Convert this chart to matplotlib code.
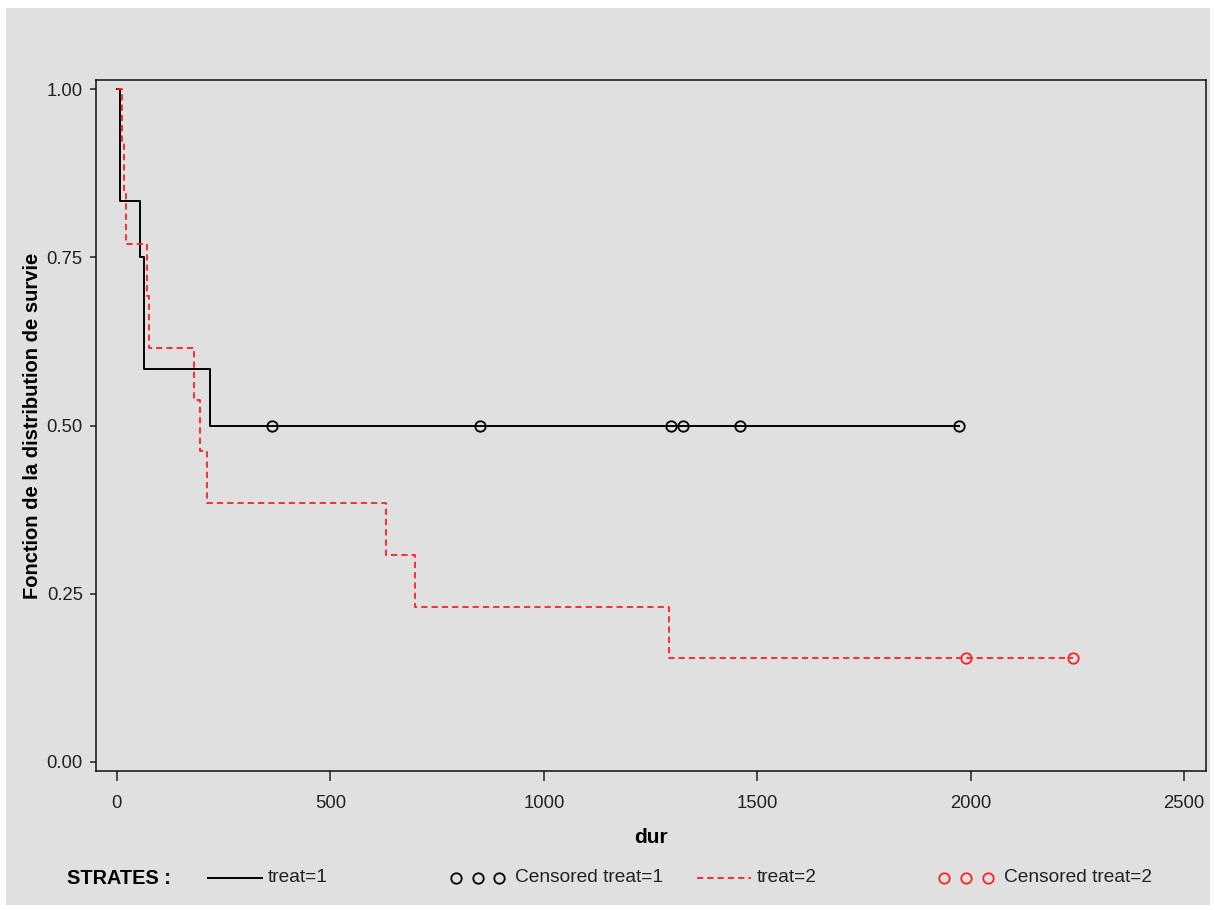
import matplotlib
matplotlib.use('Agg')
import matplotlib.pyplot as plt
from matplotlib.patches import Rectangle
from matplotlib.lines import Line2D

plt.rcParams['font.family'] = ['Liberation Sans', 'DejaVu Sans']
plt.rcParams['lines.scale_dashes'] = False

# Kaplan-Meier estimates, stratum treat=1
t1_times = [0, 8, 54, 63, 219]
t1_surv = [1.0, 0.8333, 0.75, 0.5833, 0.5]
t1_end = 1973
t1_cens = [363, 850, 1298, 1327, 1459, 1973]
t1_cens_surv = [0.5, 0.5, 0.5, 0.5, 0.5, 0.5]

# Kaplan-Meier estimates, stratum treat=2
t2_times = [0, 12, 17, 21, 70, 74, 181, 194, 210, 631, 698, 1294]
t2_surv = [1.0, 0.9231, 0.8462, 0.7692, 0.6923, 0.6154, 0.5385,
           0.4615, 0.3846, 0.3077, 0.2308, 0.1538]
t2_end = 2240
t2_cens = [1989, 2240]
t2_cens_surv = [0.1538, 0.1538]

x_ticks = [0, 500, 1000, 1500, 2000, 2500]
y_ticks = [0.00, 0.25, 0.50, 0.75, 1.00]
y_tick_labels = ['0.00', '0.25', '0.50', '0.75', '1.00']

W, H = 1215, 910
bg = '#e0e0e0'
fig = plt.figure(figsize=(W / 100, H / 100), dpi=100, facecolor='white')

# background / legend layer in pixel coordinates
bax = fig.add_axes([0, 0, 1, 1])
bax.set_xlim(0, W)
bax.set_ylim(H, 0)
bax.axis('off')
bax.add_patch(Rectangle((6, 8), 1204, 897, facecolor=bg, edgecolor='none'))

ax = fig.add_axes([96 / W, (H - 771) / H, (1206 - 96) / W, (771 - 80) / H])
ax.set_facecolor(bg)

ax.step(t1_times + [t1_end], t1_surv + [t1_surv[-1]], where='post',
        color='black', lw=1.4, zorder=3)
ax.plot(t1_cens, t1_cens_surv, 'o', mfc='none', mec='black', ms=7.5, mew=1.3, zorder=4)

ax.step(t2_times + [t2_end], t2_surv + [t2_surv[-1]], where='post',
        color='#ff2020', lw=1.3, dashes=(4.5, 2.9), zorder=3)
ax.plot(t2_cens, t2_cens_surv, 'o', mfc='none', mec='#ff2020', ms=7.5, mew=1.3, zorder=4)

ax.set_xlim(-49, 2551)
ax.set_ylim(-0.0134, 1.0134)
ax.set_xticks(x_ticks)
ax.set_yticks(y_ticks)
ax.set_yticklabels(y_tick_labels)
ax.tick_params(axis='x', length=7, width=1.1, pad=10, labelsize=13.3, colors='#222222')
ax.tick_params(axis='y', length=4.5, width=1.1, pad=5, labelsize=13.3, colors='#222222')
for s in ax.spines.values():
    s.set_linewidth(1.1)
    s.set_color('#111111')

ax.set_xlabel('dur', fontsize=15, fontweight='bold', labelpad=12)
ax.set_ylabel('Fonction de la distribution de survie', fontsize=14.5,
              fontweight='bold', labelpad=3)

# legend
ly = 878
fs = 13.8
bax.text(67, ly, 'STRATES :', fontsize=14.3, fontweight='bold', va='center', ha='left')
bax.add_line(Line2D([208, 262], [ly, ly], color='black', lw=1.4))
bax.text(268, ly, 'treat=1', fontsize=fs, va='center', ha='left', color='#222222')
bax.plot([456, 478, 499], [ly, ly, ly], 'o', mfc='none', mec='black', ms=7.5, mew=1.3)
bax.text(515, ly, 'Censored treat=1', fontsize=fs, va='center', ha='left', color='#222222')
bax.add_line(Line2D([697, 751], [ly, ly], color='#ff2020', lw=1.3, dashes=(4.5, 2.9)))
bax.text(757, ly, 'treat=2', fontsize=fs, va='center', ha='left', color='#222222')
bax.plot([944, 966, 988], [ly, ly, ly], 'o', mfc='none', mec='#ff2020', ms=7.5, mew=1.3)
bax.text(1004, ly, 'Censored treat=2', fontsize=fs, va='center', ha='left', color='#222222')

fig.savefig('out.png', dpi=100, facecolor='white')
